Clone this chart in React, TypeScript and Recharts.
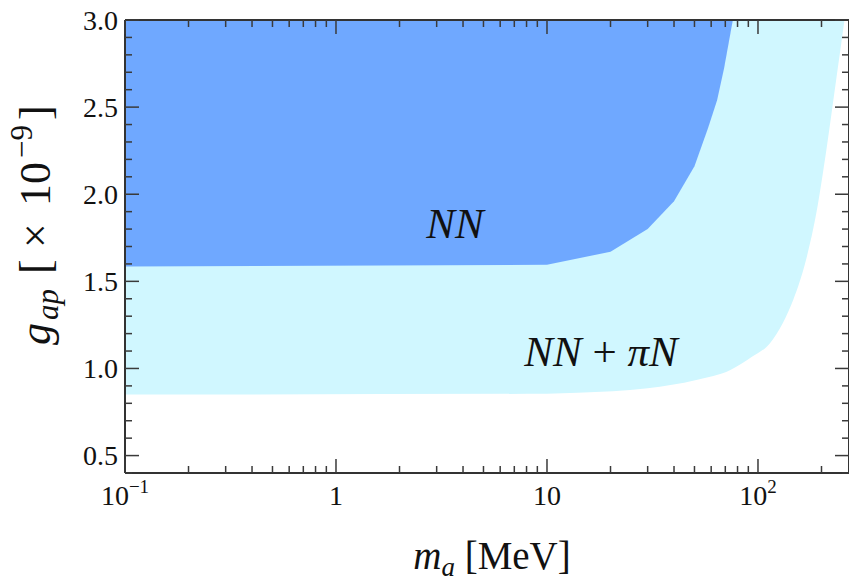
import React from "react";
import { ComposedChart, Area, XAxis, YAxis } from "recharts";

// NN bound (dark region): lower edge, region extends up to the top of the plot
const nnMass = [0.1, 10, 20, 30, 40, 50, 58, 64, 69, 76];
const nnLower = [1.585, 1.595, 1.67, 1.8, 1.96, 2.16, 2.38, 2.54, 2.72, 3.0];

// NN + piN bound (light region)
const totalMass = [0.1, 10, 14, 30, 51, 74, 94, 114, 131, 147, 169, 189, 211, 236, 257];
const totalLower = [0.85, 0.855, 0.86, 0.886, 0.934, 0.991, 1.068, 1.145, 1.26, 1.394, 1.624, 1.892, 2.256, 2.677, 3.0];

const gTop = 3.0;

const xMajorTicks = [0.1, 1, 10, 100];
const xMinorTicks = [0.2, 0.3, 0.4, 0.5, 0.6, 0.7, 0.8, 0.9, 2, 3, 4, 5, 6, 7, 8, 9, 20, 30, 40, 50, 60, 70, 80, 90, 200];
const xTickLabels = ["10", "1", "10", "10"];
const xTickExp = ["−1", "", "", "2"];

const yMajorTicks = [0.5, 1.0, 1.5, 2.0, 2.5, 3.0];
const yMinorTicks = [0.4, 0.6, 0.7, 0.8, 0.9, 1.1, 1.2, 1.3, 1.4, 1.6, 1.7, 1.8, 1.9, 2.1, 2.2, 2.3, 2.4, 2.6, 2.7, 2.8, 2.9];
const yTickLabels = ["0.5", "1.0", "1.5", "2.0", "2.5", "3.0"];

const chartData = Array.from(new Set([...nnMass, ...totalMass]))
  .sort((a, b) => a - b)
  .map((m) => {
    const i = nnMass.indexOf(m);
    const j = totalMass.indexOf(m);
    return {
      m,
      nn: i >= 0 ? [nnLower[i], gTop] : null,
      total: j >= 0 ? [totalLower[j], gTop] : null,
    };
  });

const xTicks = [...xMajorTicks, ...xMinorTicks].sort((a, b) => a - b);
const yTicks = [...yMajorTicks, ...yMinorTicks].sort((a, b) => a - b);

const FONT = "'Liberation Serif', 'Times New Roman', serif";
const TICK = "#3a3a3a";

const XTick = ({ x, y, payload, top }: any) => {
  const k = xMajorTicks.indexOf(payload.value);
  const len = k >= 0 ? 14 : 7;
  const dir = top ? 1 : -1;
  return (
    <g>
      <line x1={x} y1={y} x2={x} y2={y + dir * len} stroke={TICK} strokeWidth={1.5} />
      {!top && k >= 0 && (
        <text x={x} y={y + 32} textAnchor="middle" fontFamily={FONT} fontSize={28} fill="#111">
          {xTickLabels[k]}
          {xTickExp[k] && (
            <tspan dy={-12} fontSize={19}>
              {xTickExp[k]}
            </tspan>
          )}
        </text>
      )}
    </g>
  );
};

const YTick = ({ x, y, payload, right }: any) => {
  const k = yMajorTicks.indexOf(payload.value);
  const len = k >= 0 ? 14 : 7;
  const dir = right ? -1 : 1;
  return (
    <g>
      <line x1={x} y1={y} x2={x + dir * len} y2={y} stroke={TICK} strokeWidth={1.5} />
      {!right && k >= 0 && (
        <text x={x - 7} y={y} dy="0.35em" textAnchor="end" fontFamily={FONT} fontSize={28} fill="#111">
          {yTickLabels[k]}
        </text>
      )}
    </g>
  );
};

const frame = { stroke: "#333", strokeWidth: 2 };

export default function App() {
  return (
    <div
      style={{
        position: "absolute",
        left: 0,
        top: 0,
        width: 849,
        height: 576,
        overflow: "hidden",
        background: "#fff",
      }}
    >
      <ComposedChart
        width={850}
        height={576}
        data={chartData}
        margin={{ top: 19, right: 0, bottom: 102, left: 124 }}
      >
        <XAxis
          dataKey="m"
          type="number"
          scale="log"
          domain={[0.1, 270]}
          allowDataOverflow
          ticks={xTicks}
          interval={0}
          height={1}
          tickSize={0}
          tickMargin={0}
          tickLine={false}
          axisLine={frame}
          tick={<XTick />}
        />
        <XAxis
          xAxisId="top"
          orientation="top"
          dataKey="m"
          type="number"
          scale="log"
          domain={[0.1, 270]}
          allowDataOverflow
          ticks={xTicks}
          interval={0}
          height={1}
          tickSize={0}
          tickMargin={0}
          tickLine={false}
          axisLine={frame}
          tick={<XTick top />}
        />
        <YAxis
          type="number"
          domain={[0.4, 3.0]}
          allowDataOverflow
          ticks={yTicks}
          interval={0}
          width={1}
          tickSize={0}
          tickMargin={0}
          tickLine={false}
          axisLine={frame}
          tick={<YTick />}
        />
        <YAxis
          yAxisId="right"
          orientation="right"
          type="number"
          domain={[0.4, 3.0]}
          allowDataOverflow
          ticks={yTicks}
          interval={0}
          width={1}
          tickSize={0}
          tickMargin={0}
          tickLine={false}
          axisLine={frame}
          tick={<YTick right />}
        />
        <Area
          dataKey="total"
          type="monotone"
          connectNulls
          stroke="none"
          fill="#d0f7ff"
          fillOpacity={1}
          isAnimationActive={false}
        />
        <Area
          dataKey="nn"
          type="linear"
          connectNulls
          stroke="none"
          fill="#6fa8ff"
          fillOpacity={1}
          isAnimationActive={false}
        />
      </ComposedChart>
      <svg
        width={849}
        height={576}
        style={{ position: "absolute", left: 0, top: 0, pointerEvents: "none" }}
      >
        <text x={455} y={238} textAnchor="middle" fontFamily={FONT} fontStyle="italic" fontSize={43} fill="#111">
          NN
        </text>
        <text x={601} y={366} textAnchor="middle" fontFamily={FONT} fontSize={43} fill="#111">
          <tspan fontStyle="italic">NN</tspan>
          <tspan> + </tspan>
          <tspan fontStyle="italic">πN</tspan>
        </text>
        <text x={492} y={569} textAnchor="middle" fontFamily={FONT} fontSize={39} fill="#111">
          <tspan fontStyle="italic">m</tspan>
          <tspan fontStyle="italic" fontSize={27} dy={7}>a</tspan>
          <tspan dy={-7}> [MeV]</tspan>
        </text>
        <g transform="rotate(-90)" fontFamily={FONT} fontSize={44} fill="#111">
          <text x={-345} y={50} fontStyle="italic">g</text>
          <text x={-320} y={58} fontStyle="italic" fontSize={31}>ap</text>
          <text x={-274} y={50}>[</text>
          <text x={-248} y={50}>×</text>
          <text x={-206} y={50}>10</text>
          <text x={-158} y={32} fontSize={31}>−9</text>
          <text x={-120} y={50}>]</text>
        </g>
      </svg>
    </div>
  );
}
